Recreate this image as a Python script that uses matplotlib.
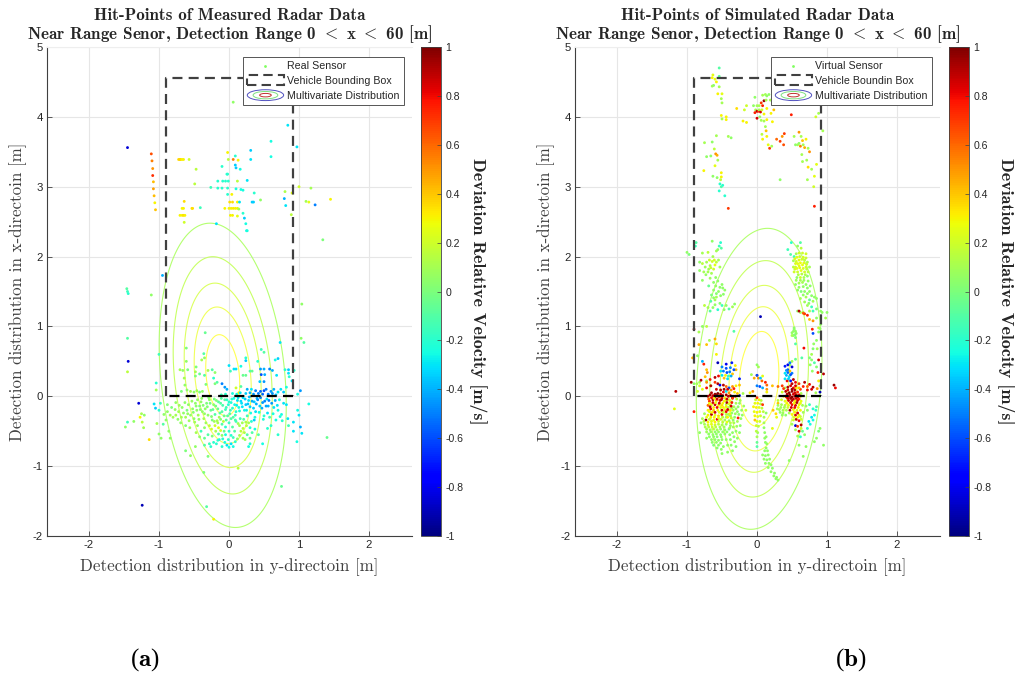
"""Hit-points of measured and simulated radar data, side by side."""
import numpy as np
import matplotlib
matplotlib.use('Agg')
import matplotlib.pyplot as plt
from matplotlib.cm import ScalarMappable
from matplotlib.colors import Normalize
from matplotlib.legend_handler import HandlerBase
from matplotlib.lines import Line2D
from matplotlib.patches import Ellipse, Patch, Rectangle

# values as (y-direction, x-direction, deviation velocity)
real_far_hits = [
    (0.06,4.21,0.05),(0.84,3.88,-0.3),(0.97,3.57,-0.3),(0.6,3.65,-0.25),(-1.45,3.56,-0.85),
    (-1.11,3.47,0.65),(-1.1,3.37,0.55),(-1.09,3.26,0.5),(-1.09,3.16,0.72),(-1.08,3.07,0.42),
    (-1.08,2.97,0.48),(-1.07,2.87,0.42),(-1.06,2.77,0.3),(-1.05,2.67,0.4),(-0.72,3.39,0.35),
    (-0.7,3.39,0.4),(-0.69,3.39,0.35),(-0.67,3.39,0.3),(-0.65,3.39,0.3),(-0.57,3.39,0.2),
    (-0.47,3.25,0.15),(-0.49,3.04,0.15),(-0.64,2.79,0.35),(-0.65,2.69,0.3),(-0.67,2.69,0.3),
    (-0.53,2.69,0.35),(-0.52,2.69,0.35),(-0.41,2.7,-0.15),(-0.7,2.59,0.3),(-0.67,2.59,0.3),
    (-0.65,2.59,0.35),(-0.63,2.59,0.3),(-0.64,2.49,0.2),(-0.18,2.47,-0.3),(-0.02,3.49,0.3),
    (-0.01,3.39,0.15),(0.06,3.39,0.55),(0.13,3.38,0.3),(0.09,3.44,-0.2),(0.31,3.52,-0.35),
    (0.31,3.39,-0.3),(0.6,3.43,-0.25),(-0.1,3.29,-0.2),(0.09,3.31,-0.35),(0.1,3.27,-0.35),
    (0.16,3.25,-0.25),(-0.03,3.18,-0.2),(-0.02,3.18,-0.2),(-0.16,3.08,-0.2),(-0.09,3.08,-0.2),
    (-0.05,3.08,-0.2),(-0.01,3.08,-0.2),(0.12,3.08,0.15),(0.26,3.09,-0.3),(-0.26,2.99,-0.15),
    (-0.16,2.98,-0.2),(-0.1,2.98,-0.2),(-0.02,2.98,-0.2),(0.1,2.97,-0.25),(0.17,2.96,-0.25),
    (0.2,2.95,-0.25),(0.36,2.91,-0.2),(-0.02,2.89,-0.2),(0.04,2.89,0.3),(0.45,2.81,0.05),
    (0.33,2.78,-0.35),(0.35,2.78,-0.35),(0.01,2.78,0.35),(0.05,2.78,0.35),(0.12,2.78,0.3),
    (0.15,2.78,-0.3),(-0.06,2.69,0.3),(0.0,2.69,0.3),(0.03,2.69,0.3),(0.06,2.69,0.32),
    (0.09,2.69,0.3),(0.12,2.69,0.3),(0.14,2.68,0.1),(0.2,2.62,-0.2),(0.22,2.55,-0.35),
    (0.24,2.47,-0.25),(0.26,2.37,-0.25),(0.25,2.37,-0.25),(0.02,2.59,0.3),(0.05,2.59,0.3),
    (0.12,2.58,0.25),(0.8,2.93,0.12),(0.9,2.91,0.25),(0.79,2.83,-0.4),(0.81,2.73,-0.3),
    (0.89,2.6,0.15),(1.0,3.0,0.2),(1.17,2.98,0.1),(1.1,2.79,0.1),(1.14,2.78,0.25),
    (1.23,2.74,-0.5),(1.45,2.82,0.3),(1.34,2.24,0.0),(-0.95,1.73,-0.4),(-1.46,1.54,-0.1),
    (-1.45,1.5,-0.15),(-1.44,1.47,-0.2),(-1.11,1.45,0.05),(1.04,1.32,0.05),
]
real_upper_hits = [
    (-1.45,0.83,-0.1),(-1.44,0.5,-0.85),(-1.45,0.35,0.15),(-1.0,0.6,-0.15),(-1.04,0.19,-0.2),
    (-1.04,0.09,0.1),(-0.61,0.69,0.0),(-0.34,0.91,-0.05),(-0.36,0.61,-0.1),(-0.35,0.55,0.05),
    (-0.39,0.52,0.1),(-0.61,0.5,0.05),(-0.7,0.38,0.1),(-0.66,0.37,0.05),(-0.59,0.38,0.0),
    (-0.47,0.42,0.0),(-0.48,0.35,0.1),(-0.42,0.32,-0.05),(-0.48,0.29,0.0),(-0.35,0.3,-0.1),
    (-0.3,0.37,0.1),(-0.24,0.38,-0.1),(-0.2,0.34,0.05),(-0.22,0.26,-0.2),(-0.17,0.2,-0.1),
    (-0.2,0.18,0.0),(-0.33,0.17,0.0),(-0.64,0.26,0.1),(-0.63,0.16,0.05),(-0.68,0.07,0.0),
    (-0.6,0.09,0.05),(-0.55,0.07,0.1),(-0.5,0.06,0.05),(-0.46,0.08,0.1),(-0.42,0.06,0.0),
    (-0.38,0.07,0.05),(-0.1,0.18,-0.5),(-0.06,0.13,-0.45),(-0.03,0.1,-0.4),(0.0,0.44,-0.3),
    (0.02,0.36,-0.15),(0.07,0.39,-0.3),(0.1,0.39,-0.3),(0.17,0.43,-0.25),(0.24,0.55,-0.2),
    (0.24,0.51,-0.35),(0.2,0.3,-0.05),(0.24,0.3,-0.05),(0.17,0.14,-0.1),(0.1,0.12,0.2),
    (0.14,0.05,0.3),(0.3,0.36,-0.1),(0.33,0.36,-0.05),(0.41,0.5,-0.2),(0.46,0.67,-0.15),
    (0.5,0.63,-0.1),(0.45,0.39,-0.45),(0.5,0.39,-0.4),(0.46,0.31,-0.6),(0.51,0.31,-0.4),
    (0.44,0.21,-0.35),(0.5,0.21,-0.45),(0.58,0.39,-0.5),(0.62,0.37,-0.4),(0.66,0.52,-0.25),
    (0.7,0.54,-0.35),(0.73,0.77,-0.3),(0.68,0.3,-0.3),(0.8,0.38,-0.2),(0.85,0.38,-0.35),
    (0.93,0.37,-0.2),(0.85,0.33,-0.3),(0.86,0.28,-0.2),(0.9,0.22,-0.3),(0.26,0.1,-0.4),
    (0.32,0.1,-0.3),(0.38,0.08,-0.5),(0.45,0.07,-0.55),(0.5,0.08,-0.6),(0.53,0.1,-0.5),
    (0.6,0.07,-0.45),(0.64,0.1,-0.4),(0.7,0.06,-0.3),(0.78,0.06,-0.35),(1.03,0.83,0.05),
    (1.07,0.77,-0.1),(0.98,0.03,-0.25),(1.02,0.08,-0.45),
]
real_lower_hits = [
    (-0.98,-0.1,-0.15),(-1.07,-0.11,-0.3),(-1.05,-0.17,-0.35),(-1.0,-0.2,-0.2),(-1.21,-0.27,0.05),
    (-1.24,-0.37,0.15),(-1.25,-0.25,0.1),(-1.27,-0.3,0.3),(-1.36,-0.36,0.05),(-1.48,-0.44,0.05),
    (-1.45,-0.37,-0.15),(-1.22,-0.45,0.1),(-1.29,-0.1,-0.85),(-1.14,-0.62,0.35),(-1.03,-0.39,0.1),
    (-1.0,-0.54,0.05),(-0.97,-0.6,0.05),(-0.94,-0.4,-0.1),(-0.86,-0.5,0.05),(-0.84,-0.6,0.05),
    (-0.9,-0.34,0.05),(-0.93,-0.26,0.05),(-0.88,-0.22,0.05),(-0.84,-0.27,0.1),(-0.82,-0.16,0.0),
    (-0.8,-0.3,0.1),(-0.76,-0.27,0.1),(-0.73,-0.33,0.05),(-0.72,-0.22,0.1),(-0.68,-0.3,0.1),
    (-0.65,-0.24,0.05),(-0.62,-0.3,0.1),(-0.6,-0.2,0.0),(-0.58,-0.12,0.05),(-0.55,-0.27,0.05),
    (-0.52,-0.18,0.05),(-0.5,-0.32,0.05),(-0.48,-0.1,0.05),(-0.46,-0.2,0.05),(-0.44,-0.27,0.1),
    (-0.42,-0.14,0.0),(-0.4,-0.08,0.05),(-0.38,-0.22,0.05),(-0.36,-0.32,0.1),(-0.34,-0.18,0.05),
    (-0.32,-0.1,0.0),(-0.3,-0.27,0.05),(-0.28,-0.05,0.05),(-0.26,-0.2,-0.05),(-0.24,-0.34,0.0),
    (-0.22,-0.12,0.05),(-0.2,-0.26,-0.1),(-0.18,-0.06,0.0),(-0.16,-0.18,-0.05),(-0.14,-0.3,0.1),
    (-0.12,-0.1,-0.1),(-0.1,-0.22,-0.1),(-0.08,-0.36,0.15),(-0.06,-0.05,-0.1),(-0.04,-0.16,-0.15),
    (-0.02,-0.28,-0.1),(0.0,-0.08,-0.2),(0.02,-0.2,-0.15),(0.04,-0.04,-0.2),(0.06,-0.3,-0.1),
    (0.08,-0.12,-0.25),(0.1,-0.22,-0.2),(0.12,-0.06,-0.3),(0.14,-0.16,-0.25),(0.16,-0.32,-0.15),
    (0.18,-0.1,-0.3),(0.2,-0.02,-0.3),(0.22,-0.2,-0.25),(0.24,-0.12,-0.35),(0.26,-0.28,-0.15),
    (0.28,-0.06,-0.3),(0.3,-0.15,-0.35),(0.32,-0.36,-0.2),(0.36,-0.08,-0.35),(0.38,-0.22,-0.3),
    (0.4,-0.03,-0.4),(0.44,-0.14,-0.35),(0.48,-0.09,-0.45),(0.5,-0.28,-0.2),(0.54,-0.04,-0.3),
    (0.56,-0.14,-0.4),(0.58,-0.3,-0.15),(0.6,-0.42,-0.2),(0.64,-0.16,-0.3),(0.67,-0.34,-0.25),
    (0.7,-0.2,-0.25),(0.72,-0.05,-0.25),(0.75,-0.26,-0.25),(0.78,-0.1,-0.3),(0.76,-0.35,-0.2),
    (0.82,-0.12,-0.3),(0.84,-0.32,-0.3),(0.85,-0.42,-0.15),(0.92,-0.37,-0.3),(0.92,-0.5,-0.3),
    (0.98,-0.2,-0.25),(1.0,-0.27,-0.3),(1.02,-0.44,-0.4),(1.04,-0.53,-0.3),(0.97,-0.65,-0.25),
    (1.14,-0.11,-0.25),(1.4,-0.59,-0.05),(0.75,-1.29,-0.05),(-0.32,-1.58,-0.1),(-1.24,-1.56,-0.9),
    (-0.22,-1.76,0.3),(-0.36,-1.09,0.0),(0.13,-1.03,0.15),(-0.62,-0.78,0.0),(-0.55,-0.85,0.05),
    (-0.3,-0.86,0.0),(-0.48,-0.72,0.05),(-0.35,-0.7,-0.1),(-0.28,-0.68,-0.15),(-0.26,-0.72,-0.2),
    (-0.22,-0.66,-0.2),(-0.18,-0.68,-0.2),(-0.14,-0.62,-0.25),(-0.1,-0.72,-0.2),(-0.06,-0.66,-0.25),
    (-0.03,-0.7,-0.3),(0.0,-0.73,-0.25),(0.03,-0.68,-0.3),(0.06,-0.72,-0.25),(0.09,-0.65,-0.2),
    (-0.15,-0.54,-0.1),(-0.1,-0.56,0.05),(-0.05,-0.55,-0.25),(0.0,-0.5,-0.2),(0.08,-0.5,-0.1),
    (0.15,-0.56,0.1),(0.2,-0.6,0.1),(0.26,-0.55,-0.1),(0.3,-0.6,-0.05),(0.28,-0.72,-0.25),
    (0.3,-0.68,-0.2),(0.42,-0.55,-0.1),(0.48,-0.68,-0.25),(0.55,-0.46,-0.2),(0.7,-0.55,-0.2),
    (-0.45,-0.42,0.05),(-0.4,-0.5,-0.15),(-0.35,-0.45,0.05),(-0.3,-0.55,-0.1),(-0.28,-0.42,0.15),
    (-0.25,-0.47,0.2),(-0.2,-0.42,0.2),(-0.15,-0.45,0.25),(-0.1,-0.4,-0.1),(-0.05,-0.44,-0.2),
    (0.0,-0.38,-0.15),(0.05,-0.44,-0.1),(0.1,-0.36,-0.15),(0.15,-0.42,0.1),(0.2,-0.46,0.15),
    (0.25,-0.42,0.15),(0.3,-0.45,-0.2),(0.36,-0.34,-0.35),
]
real_dense_hits = [
    (-0.77,-0.19,0.06),(-0.71,-0.13,0.08),(-0.67,-0.16,0.05),(-0.63,-0.09,0.04),(-0.59,-0.25,0.07),
    (-0.57,-0.35,0.08),(-0.53,-0.07,0.06),(-0.51,-0.23,0.03),(-0.49,-0.37,0.09),(-0.47,-0.14,0.04),
    (-0.45,-0.05,0.06),(-0.43,-0.33,0.07),(-0.41,-0.19,0.02),(-0.39,-0.03,0.05),(-0.37,-0.13,0.03),
    (-0.35,-0.25,0.06),(-0.33,-0.38,0.08),(-0.31,-0.15,0.02),(-0.29,-0.02,0.03),(-0.27,-0.1,-0.02),
    (-0.25,-0.29,0.02),(-0.23,-0.19,-0.06),(-0.21,-0.04,-0.02),(-0.19,-0.14,-0.03),(-0.17,-0.35,0.12),
    (-0.15,-0.08,-0.08),(-0.13,-0.24,-0.09),(-0.11,-0.03,-0.1),(-0.09,-0.13,-0.12),(-0.07,-0.28,-0.05),
    (-0.05,-0.19,-0.15),(-0.03,-0.05,-0.18),(-0.01,-0.12,-0.2),(0.01,-0.25,-0.12),(0.03,-0.09,-0.22),
    (0.05,-0.17,-0.2),(0.07,-0.03,-0.25),(0.09,-0.27,-0.15),(0.11,-0.13,-0.28),(0.13,-0.02,-0.3),
    (0.15,-0.21,-0.22),(0.17,-0.07,-0.32),(0.19,-0.15,-0.3),(0.21,-0.33,-0.1),(0.23,-0.04,-0.35),
    (0.25,-0.2,-0.28),(0.27,-0.11,-0.36),(0.29,-0.01,-0.38),(0.31,-0.24,-0.25),(0.33,-0.07,-0.4),
    (0.35,-0.17,-0.34),(0.37,-0.3,-0.22),(0.39,-0.11,-0.4),(0.41,-0.05,-0.45),(0.43,-0.23,-0.25),
    (0.45,-0.02,-0.5),(0.47,-0.17,-0.4),(0.49,-0.33,-0.22),(0.51,-0.07,-0.48),(0.53,-0.14,-0.42),
    (0.55,-0.24,-0.3),(0.57,-0.06,-0.5),(0.61,-0.1,-0.45),(0.63,-0.25,-0.25),(0.66,-0.06,-0.4),
    (0.69,-0.13,-0.3),(0.73,-0.29,-0.22),(-0.19,-0.5,0.1),(-0.12,-0.49,0.2),(-0.07,-0.5,-0.05),
    (0.03,-0.56,-0.2),(0.06,-0.59,-0.15),(0.12,-0.61,0.05),(0.17,-0.5,0.15),(0.22,-0.52,0.12),
    (0.23,-0.62,0.08),(0.33,-0.52,-0.1),(0.37,-0.47,-0.25),(-0.16,-0.63,-0.18),(-0.09,-0.61,-0.2),
    (-0.01,-0.62,-0.2),(-0.24,-0.57,0.0),(-0.35,-0.6,-0.05),(-0.42,-0.58,0.05),(-0.21,-0.36,0.08),
    (-0.16,-0.38,0.1),(-0.12,-0.33,0.02),(-0.04,-0.34,-0.1),(0.03,-0.32,-0.1),(0.09,-0.34,-0.12),
    (0.13,-0.39,0.08),(0.19,-0.38,0.1),(0.24,-0.37,0.12),(0.28,-0.38,0.1),(-0.88,-0.12,0.02),
    (-0.76,-0.09,0.05),(-0.69,-0.38,0.05),(-0.62,-0.42,0.02),(-0.56,-0.45,0.08),(-0.47,-0.52,0.1),
    (-0.11,0.02,-0.15),(-0.05,0.03,-0.2),(0.05,0.04,-0.25),(0.11,0.03,-0.25),(0.16,0.05,-0.3),
    (0.24,0.04,-0.35),(0.3,0.05,-0.4),(0.35,0.03,-0.45),(0.42,0.04,-0.5),(0.48,0.03,-0.55),
    (0.56,0.03,-0.5),(0.62,0.04,-0.45),(0.67,0.02,-0.35),(0.74,0.1,-0.3),(0.82,0.13,-0.25),
]

sim_top_hits = [
    (-0.54,4.7,-0.1),(-0.63,4.6,0.25),(-0.64,4.56,0.3),(-0.6,4.54,0.25),(-0.58,4.5,0.3),
    (-0.54,4.58,-0.05),(-0.64,4.44,0.1),(-0.62,4.45,0.05),(-0.54,4.43,0.1),(-0.56,4.33,0.3),
    (-0.5,4.33,0.25),(-0.51,4.26,0.1),(-0.5,4.2,0.1),(-0.51,4.02,0.3),(-0.5,3.97,0.1),
    (-0.44,4.0,0.3),(-0.44,3.96,0.3),(-0.58,3.73,0.1),(-0.41,3.72,0.1),(-0.37,3.7,0.05),
    (-0.75,3.63,0.1),(-0.64,3.64,0.05),(-0.61,3.54,0.15),(-0.59,3.47,0.5),(-0.57,3.45,0.45),
    (-0.72,3.43,0.05),(-0.66,3.44,0.05),(-0.56,3.38,0.1),(-0.6,3.3,0.25),(-0.76,3.23,0.3),
    (-0.63,3.15,0.05),(-0.57,3.13,0.05),(-0.51,3.2,0.3),(-0.51,3.14,0.3),(-0.52,3.1,0.15),
    (-0.53,3.04,-0.2),(-0.51,3.0,-0.1),(-0.49,3.02,-0.2),(-0.54,2.94,-0.2),(-0.46,2.87,-0.2),
    (-0.41,2.69,0.7),(-0.29,4.12,0.35),(-0.18,4.1,0.2),(-0.15,4.16,0.2),(-0.2,3.94,0.3),
    (-0.15,3.92,0.3),(-0.03,4.28,0.05),(-0.05,4.16,0.05),(-0.02,4.1,0.1),(0.0,4.16,0.1),
    (-0.03,4.06,0.75),(0.0,4.08,0.9),(0.02,4.08,0.75),(0.03,4.1,0.1),(0.05,4.07,0.85),
    (0.03,4.16,0.1),(0.06,4.2,0.7),(0.08,4.16,0.75),(0.1,4.23,0.95),(0.07,4.1,0.2),
    (0.04,4.0,0.05),(0.0,3.98,0.85),(0.06,3.95,0.1),(0.1,4.04,0.3),(0.14,4.12,0.3),
    (0.13,4.24,0.1),(0.12,4.32,0.1),(0.08,4.31,0.1),(0.14,4.3,0.05),(0.17,4.32,0.05),
    (0.19,4.24,0.1),(0.22,4.18,0.25),(0.24,4.1,0.4),(0.2,4.05,0.3),(0.14,3.96,0.3),
    (0.1,3.94,0.1),(0.22,3.93,0.3),(0.12,3.86,0.1),(0.13,3.8,0.4),(0.07,3.75,0.15),
    (0.14,3.72,0.3),(0.08,3.68,0.3),(0.16,3.6,0.25),(0.18,3.55,0.7),(0.21,3.58,0.1),
    (0.28,3.68,0.6),(0.33,3.65,0.7),(0.36,3.72,0.5),(0.38,3.6,0.65),(0.39,3.76,0.7),
    (0.49,4.03,0.75),(0.53,3.72,0.1),(0.6,3.78,0.5),(0.63,3.72,0.1),(0.6,3.62,0.05),
    (0.65,3.66,0.4),(0.58,3.6,0.1),(0.62,3.58,0.55),(0.66,3.6,0.1),(0.68,3.56,0.45),
    (0.55,3.6,0.05),(0.7,3.68,0.3),(0.73,3.55,0.1),(0.75,3.5,0.5),(0.64,3.46,0.1),
    (0.65,3.36,0.1),(0.71,3.38,0.1),(0.73,3.28,0.35),(0.85,3.32,0.25),(0.78,3.25,0.1),
    (0.72,3.1,0.1),(0.82,3.15,0.25),(0.81,3.0,0.2),(0.82,2.72,0.75),(0.33,3.1,0.05),
    (0.94,3.8,0.1),(0.88,4.05,0.1),(0.84,4.0,0.2),
]
sim_mid_hits = [
    (-0.64,2.22,0.05),(-0.87,2.2,-0.1),(-0.88,2.15,-0.15),(-0.54,2.15,-0.15),(-0.52,2.2,-0.2),
    (-0.51,2.12,-0.1),(-1.0,2.06,0.05),(-0.97,2.03,0.0),(-0.78,2.05,0.1),(-0.7,2.06,0.15),
    (-0.58,2.08,0.1),(-0.56,2.1,0.05),(-0.82,1.92,0.05),(-0.78,1.9,0.15),(-0.72,1.92,0.1),
    (-0.68,1.95,0.2),(-0.63,2.0,0.1),(-0.6,1.88,0.25),(-0.62,1.82,0.2),(-0.55,1.95,0.1),
    (-0.53,1.85,0.1),(-0.82,1.8,0.05),(-0.76,1.78,0.1),(-0.7,1.78,0.1),(-0.65,1.76,0.1),
    (-0.78,1.66,0.05),(-0.59,1.7,0.05),(-0.56,1.65,0.05),(-0.5,1.6,0.05),(-0.69,1.58,-0.05),
    (-0.62,1.52,0.05),(-0.55,1.5,0.05),(-0.46,1.52,0.05),(-0.65,1.45,0.0),(-0.58,1.42,0.1),
    (-0.66,1.36,-0.1),(-0.6,1.38,0.1),(-0.7,1.27,0.1),(-0.75,1.3,0.15),(-0.67,1.22,-0.1),
    (-0.63,1.27,0.05),(-0.56,1.24,-0.2),(-0.5,1.3,-0.15),(-0.44,1.3,0.05),(-0.4,1.25,-0.1),
    (-0.35,1.28,0.1),(-0.32,1.32,0.05),(-0.72,1.0,0.15),(-0.78,1.0,0.05),(-0.83,0.92,0.1),
    (-0.9,0.96,0.9),(-0.68,0.8,0.1),(-0.72,0.74,0.4),(-0.83,0.74,0.45),(-0.6,0.82,0.45),
    (-0.58,0.75,0.35),(-0.92,0.55,0.45),(-0.58,0.6,0.3),(-0.78,0.5,-0.4),(-0.76,0.46,0.75),
    (-0.72,0.38,0.4),(-0.71,0.34,0.5),(-0.74,0.28,0.4),(-0.72,0.22,0.1),(-0.85,0.58,0.05),
    (-0.82,0.2,0.1),(-0.66,0.15,0.2),(-0.33,0.93,-0.1),(-0.31,0.44,0.3),(-0.3,0.38,0.4),
    (-0.25,0.25,-0.7),(0.05,1.14,-0.9),(0.52,1.94,0.1),(0.53,2.0,-0.15),(0.48,2.03,-0.1),
    (0.44,2.1,-0.15),(0.49,2.2,-0.2),(0.58,2.15,0.05),(0.62,2.2,-0.1),(0.63,2.12,0.15),
    (0.56,2.04,0.1),(0.6,2.05,0.2),(0.65,2.05,0.2),(0.7,2.04,0.2),(0.52,1.85,0.15),
    (0.56,1.93,0.2),(0.6,1.95,0.25),(0.64,1.96,0.2),(0.68,1.95,0.15),(0.72,1.92,0.1),
    (0.55,1.85,0.2),(0.6,1.87,0.25),(0.65,1.88,0.25),(0.7,1.85,0.2),(0.75,1.85,0.1),
    (0.53,1.78,0.2),(0.58,1.78,0.2),(0.63,1.8,0.25),(0.68,1.78,0.2),(0.73,1.78,0.15),
    (0.57,1.7,0.05),(0.62,1.7,0.2),(0.67,1.7,0.1),(0.72,1.72,0.05),(0.55,1.6,0.05),
    (0.6,1.62,0.1),(0.65,1.63,0.1),(0.7,1.6,0.05),(0.76,1.58,0.05),(0.58,1.52,0.05),
    (0.63,1.5,0.0),(0.68,1.5,0.05),(0.75,1.5,0.05),(0.82,1.42,0.05),(0.62,1.4,0.1),
    (0.7,1.42,0.1),(0.75,1.38,-0.05),(0.8,1.36,0.1),(0.85,1.4,0.05),(0.72,1.3,0.1),
    (0.78,1.28,-0.15),(0.85,1.25,0.0),(0.8,1.22,-0.15),(0.75,1.22,0.1),(0.93,1.2,0.05),
    (0.98,1.12,0.1),(0.85,1.12,0.05),(0.66,1.2,0.1),(0.62,1.2,0.1),(0.58,1.22,0.05),
    (0.91,1.22,0.05),(1.0,1.2,0.05),(0.6,1.22,0.9),(0.66,1.19,0.6),(0.68,1.18,0.7),
    (0.72,1.16,0.75),(0.75,1.1,0.4),(0.8,1.08,0.5),(0.88,0.98,0.2),(0.91,1.03,0.05),
    (0.9,0.97,0.05),(0.88,0.92,0.05),(0.79,0.96,0.75),(0.8,0.9,-0.6),(0.53,0.98,0.05),
    (0.52,0.93,0.05),(0.56,0.9,0.05),(0.52,0.87,0.05),(0.55,0.84,0.0),(0.5,0.87,0.1),
    (0.55,0.75,-0.1),(0.67,0.69,0.8),(0.86,0.68,0.1),(0.88,0.52,0.85),(0.78,0.6,0.1),
    (0.75,0.55,0.0),(0.82,0.48,-0.1),(0.76,0.45,0.05),(0.87,0.34,0.75),(0.95,0.32,0.9),
    (0.64,0.55,-0.1),(0.55,0.53,-0.05),(0.5,0.5,0.1),(0.47,0.45,0.05),
]
sim_close_hits = [
    (-0.44,0.46,-0.8),(-0.36,0.48,-0.7),(-0.56,0.48,-0.9),(-0.5,0.42,-0.5),(-0.44,0.4,-0.6),
    (-0.38,0.41,-0.5),(-0.33,0.38,-0.6),(-0.52,0.36,-0.3),(-0.48,0.36,-0.5),(-0.43,0.34,-0.6),
    (-0.39,0.35,-0.5),(-0.35,0.32,0.4),(-0.5,0.3,-0.3),(-0.45,0.3,0.3),(-0.41,0.29,-0.2),
    (-0.37,0.29,-0.4),(-0.47,0.26,0.4),(-0.42,0.25,-0.3),(-0.55,0.29,0.8),(-0.6,0.27,0.9),
    (-0.67,0.24,0.75),(-0.72,0.2,0.5),(-0.8,0.23,0.9),(-0.86,0.18,0.1),(-0.9,0.18,0.05),
    (-0.94,0.2,0.95),(-0.85,0.07,0.2),(-0.82,0.15,0.2),(-0.78,0.1,0.25),(-0.72,0.12,0.8),
    (-0.66,0.15,0.9),(-0.6,0.2,0.7),(-0.56,0.18,0.9),(-0.53,0.16,-0.8),(-0.48,0.16,0.9),
    (-0.44,0.14,0.6),(-0.4,0.12,-0.6),(-0.35,0.14,0.5),(-0.3,0.15,0.3),(-0.25,0.16,0.4),
    (-0.48,0.06,0.8),(-0.44,0.07,-0.3),(-0.4,0.05,0.5),(-0.32,0.06,0.3),(-0.25,0.01,-0.7),
    (-0.2,0.04,0.1),(-0.65,0.05,0.9),(-0.6,0.03,0.95),(-0.56,0.04,1.0),(-0.52,0.03,0.85),
    (-0.7,0.0,0.9),(-0.65,-0.02,0.8),(-0.6,-0.01,1.0),(-0.55,0.0,0.9),(-0.5,-0.03,0.85),
    (-0.46,-0.02,0.3),(-0.68,-0.07,0.75),(-0.63,-0.05,0.9),(-0.58,-0.06,0.4),(-0.53,-0.06,0.8),
    (-0.47,-0.07,0.3),(-0.42,-0.05,0.1),(-0.36,-0.08,0.1),(-0.3,-0.1,0.1),(-0.25,-0.1,0.05),
    (-0.7,-0.13,0.6),(-0.65,-0.12,0.25),(-0.6,-0.12,0.85),(-0.55,-0.13,0.3),(-0.5,-0.13,0.35),
    (-0.44,-0.12,0.15),(-0.38,-0.13,0.1),(-0.33,-0.15,0.1),(-0.27,-0.15,0.05),(-0.7,-0.2,0.3),
    (-0.66,-0.18,0.8),(-0.62,-0.2,0.4),(-0.56,-0.2,0.3),(-0.5,-0.2,0.85),(-0.46,-0.19,0.25),
    (-0.4,-0.2,0.1),(-0.34,-0.2,0.1),(-0.28,-0.22,0.05),(-0.22,-0.2,0.05),(-0.75,-0.25,0.1),
    (-0.7,-0.27,0.3),(-0.65,-0.26,0.9),(-0.6,-0.27,0.25),(-0.55,-0.28,0.35),(-0.5,-0.26,0.8),
    (-0.44,-0.26,0.15),(-0.38,-0.28,0.05),(-0.32,-0.3,0.05),(-0.78,-0.32,0.1),(-0.73,-0.34,0.95),
    (-0.68,-0.33,0.2),(-0.62,-0.34,0.25),(-0.57,-0.33,0.8),(-0.52,-0.33,0.2),(-0.46,-0.34,0.1),
    (-0.4,-0.35,0.05),(-0.34,-0.34,0.05),(-0.8,-0.38,0.05),(-0.75,-0.4,0.1),(-0.7,-0.41,0.2),
    (-0.65,-0.4,0.25),(-0.6,-0.41,0.2),(-0.55,-0.4,0.15),(-0.5,-0.41,0.1),(-0.44,-0.4,0.05),
    (-0.38,-0.42,0.05),(-0.72,-0.47,0.1),(-0.67,-0.48,0.1),(-0.62,-0.47,0.15),(-0.57,-0.48,0.1),
    (-0.52,-0.47,0.05),(-0.46,-0.48,0.05),(-0.4,-0.47,0.0),(-0.82,-0.52,0.05),(-0.69,-0.54,0.05),
    (-0.63,-0.55,0.05),(-0.58,-0.54,0.05),(-0.52,-0.55,0.05),(-0.46,-0.54,0.05),(-0.65,-0.62,0.05),
    (-0.6,-0.62,0.05),(-0.55,-0.63,0.05),(-0.5,-0.62,0.05),(-0.44,-0.62,0.05),(-0.55,-0.7,0.05),
    (-0.62,-0.7,0.0),(-0.48,-0.72,0.05),(-0.5,-0.82,0.05),(-0.42,-0.8,0.05),(-0.72,-0.6,0.05),
    (-1.16,0.07,0.9),(-1.18,-0.18,0.25),(-0.9,-0.22,0.75),(-0.27,-0.31,0.75),(-0.16,-0.2,0.2),
    (-0.35,-0.02,0.9),(0.0,0.45,0.05),(0.02,0.42,0.1),(0.0,0.3,0.6),(-0.08,0.31,0.1),
    (-0.04,0.26,0.45),(0.0,0.3,-0.6),(0.02,0.26,0.5),(0.05,0.26,-0.35),(0.08,0.29,0.25),
    (0.07,0.22,0.6),(0.12,0.2,0.75),(0.14,0.16,0.6),(0.0,0.15,-0.5),(0.04,0.14,-0.6),
    (0.08,0.12,-0.4),(0.14,0.1,0.5),(0.14,0.06,0.3),(0.22,0.15,0.4),(-0.1,0.05,0.3),
    (-0.06,0.07,0.5),
]
sim_stem_hits = [
    (-0.02,-0.05,0.2),(0.0,-0.02,0.7),(0.03,-0.05,0.3),(0.06,-0.06,0.15),(-0.03,-0.1,0.25),
    (0.01,-0.1,0.3),(0.05,-0.11,0.15),(0.08,-0.12,0.7),(-0.05,-0.15,0.3),(-0.01,-0.16,0.3),
    (0.03,-0.16,0.25),(0.07,-0.17,0.15),(-0.04,-0.22,0.25),(0.0,-0.23,0.3),(0.04,-0.22,0.25),
    (0.09,-0.22,0.15),(0.13,-0.24,0.05),(-0.03,-0.28,0.3),(0.01,-0.29,0.25),(0.05,-0.28,0.2),
    (0.1,-0.3,0.1),(-0.03,-0.34,0.4),(0.0,-0.36,0.25),(0.04,-0.36,0.2),(0.1,-0.38,0.1),
    (-0.01,-0.42,0.2),(0.02,-0.43,0.15),(0.1,-0.45,0.05),(-0.01,-0.5,0.15),(0.01,-0.52,0.1),
    (0.11,-0.52,0.05),(0.0,-0.58,0.1),(0.11,-0.6,0.05),(0.13,-0.58,0.05),(0.0,-0.66,-0.05),
    (0.12,-0.66,0.05),(0.14,-0.68,0.05),(0.0,-0.72,-0.1),(0.13,-0.74,0.05),(0.11,-0.78,0.05),
    (0.15,-0.78,0.05),(0.08,-0.84,0.05),(0.12,-0.85,0.05),(0.16,-0.84,0.05),(0.1,-0.9,0.05),
    (0.14,-0.91,0.05),(0.18,-0.9,0.05),(0.12,-0.96,0.05),(0.17,-0.96,0.05),(0.2,-0.98,0.05),
    (0.16,-1.02,0.05),(0.22,-1.03,0.05),(0.2,-1.08,0.05),(0.25,-1.1,0.05),(0.24,-1.14,0.05),
    (0.28,-1.16,0.05),(0.3,-1.2,0.05),(0.27,-1.18,0.05),(0.22,-0.46,0.25),(0.27,-0.25,0.35),
    (0.23,-0.2,0.4),(0.3,-0.1,0.4),(0.28,-0.3,0.25),
]
sim_right_hits = [
    (0.44,0.45,-0.8),(0.4,0.43,-0.7),(0.47,0.48,-0.5),(0.5,0.42,-0.85),(0.44,0.38,-0.6),
    (0.47,0.36,0.4),(0.5,0.33,-0.5),(0.42,0.3,-0.4),(0.46,0.28,-0.3),(0.4,0.25,-0.3),
    (0.43,0.22,0.8),(0.48,0.22,-0.7),(0.52,0.24,0.9),(0.55,0.2,0.8),(0.6,0.18,0.7),
    (0.68,0.2,0.9),(0.75,0.17,0.8),(0.8,0.13,0.9),(0.86,0.11,0.5),(0.88,0.22,0.3),
    (0.9,0.15,0.1),(0.84,0.05,0.1),(0.9,0.06,-0.9),(1.1,0.16,0.95),(1.12,0.12,0.8),
    (0.3,0.14,0.6),(0.36,0.15,0.7),(0.4,0.12,0.1),(0.44,0.13,0.9),(0.48,0.15,0.85),
    (0.52,0.12,0.8),(0.56,0.12,0.3),(0.62,0.1,0.7),(0.72,0.09,0.8),(0.36,0.06,0.2),
    (0.41,0.07,0.9),(0.46,0.05,1.0),(0.5,0.07,0.95),(0.54,0.05,0.85),(0.58,0.06,0.75),
    (0.63,0.04,0.1),(0.38,0.0,0.3),(0.42,-0.01,0.8),(0.46,0.0,0.95),(0.5,-0.01,1.0),
    (0.54,0.0,0.9),(0.58,-0.01,0.95),(0.62,0.0,0.4),(0.3,-0.06,0.15),(0.35,-0.05,0.2),
    (0.4,-0.07,0.25),(0.45,-0.06,0.85),(0.5,-0.06,0.9),(0.54,-0.07,0.3),(0.58,-0.06,0.85),
    (0.63,-0.07,0.25),(0.3,-0.13,0.1),(0.35,-0.12,0.1),(0.4,-0.13,0.15),(0.45,-0.13,0.25),
    (0.5,-0.12,0.8),(0.55,-0.13,0.85),(0.6,-0.12,0.3),(0.65,-0.13,0.1),(0.32,-0.19,0.1),
    (0.37,-0.2,0.1),(0.42,-0.2,0.1),(0.47,-0.2,0.9),(0.52,-0.19,0.3),(0.57,-0.2,0.25),
    (0.62,-0.2,0.3),(0.36,-0.27,0.05),(0.41,-0.27,0.05),(0.5,-0.26,0.3),(0.55,-0.27,0.85),
    (0.6,-0.27,0.3),(0.52,-0.34,0.2),(0.56,-0.33,0.9),(0.6,-0.35,0.8),(0.63,-0.33,0.2),
    (0.5,-0.4,0.1),(0.55,-0.42,-0.85),(0.58,-0.43,0.7),(0.63,-0.41,0.9),(0.55,-0.48,0.1),
    (0.6,-0.5,0.85),(0.63,-0.46,0.2),(0.58,-0.57,0.1),(0.62,-0.58,-0.2),(0.65,-0.5,-0.05),
    (0.68,-0.55,0.05),(0.72,-0.46,-0.2),(0.76,-0.4,-0.25),(0.8,-0.34,-0.25),(0.82,-0.27,-0.25),
    (0.84,-0.2,-0.2),(0.78,-0.3,-0.3),(0.74,-0.36,-0.3),(0.85,-0.15,-0.1),(0.9,-0.46,0.05),
    (0.88,-0.5,0.0),(0.95,-0.7,0.05),(0.7,-0.72,0.05),(0.66,-0.86,0.05),(0.46,-0.92,0.05),
    (0.82,-0.65,0.05),(0.85,-0.6,0.05),(0.6,-0.7,0.05),
]
sim_blob_hits = [
    (-0.67,1.87,0.12),(-0.64,1.93,0.2),(-0.66,1.84,0.18),(-0.61,1.95,0.22),(-0.58,1.92,0.15),
    (-0.74,1.85,0.08),(-0.69,1.82,0.1),(-0.73,1.74,0.06),(-0.67,1.69,0.08),(-0.62,1.63,0.05),
    (-0.59,1.58,0.06),(-0.53,1.56,0.04),(-0.49,1.55,0.05),(-0.58,1.47,0.03),(-0.52,1.44,0.05),
    (-0.48,1.46,0.04),(-0.62,1.41,0.05),(-0.6,1.31,0.06),(-0.53,1.33,0.02),(-0.47,1.24,0.05),
    (0.54,1.97,0.22),(0.57,1.99,0.25),(0.61,2.0,0.2),(0.66,1.99,0.22),(0.7,1.98,0.18),
    (0.55,1.9,0.22),(0.58,1.9,0.25),(0.62,1.91,0.28),(0.67,1.91,0.25),(0.71,1.89,0.2),
    (0.54,1.82,0.2),(0.57,1.83,0.25),(0.61,1.84,0.25),(0.66,1.83,0.22),(0.71,1.82,0.15),
    (0.59,1.74,0.12),(0.64,1.75,0.14),(0.69,1.74,0.12),(0.56,1.66,0.08),(0.62,1.66,0.1),
    (0.67,1.66,0.08),(0.73,1.65,0.06),(0.6,1.56,0.06),(0.66,1.57,0.05),(0.72,1.55,0.04),
    (0.66,1.45,0.05),(0.72,1.47,0.06),(0.78,1.44,0.04),(0.68,1.35,0.08),(0.74,1.33,0.05),
    (0.53,0.96,0.04),(0.55,0.93,0.05),(0.5,0.91,0.06),(0.54,0.88,0.02),(0.85,0.8,0.05),
    (0.81,0.75,0.06),(0.8,0.68,0.02),(0.78,0.52,0.04),(0.85,0.42,0.03),(0.79,0.36,0.06),
    (-0.67,0.02,0.95),(-0.63,0.01,0.85),(-0.58,0.02,0.95),(-0.54,-0.01,0.7),(-0.49,0.01,0.9),
    (-0.69,-0.04,0.6),(-0.61,-0.03,0.3),(-0.57,-0.04,0.85),(-0.51,-0.05,0.9),(-0.45,-0.06,0.25),
    (-0.68,-0.1,0.3),(-0.63,-0.09,0.85),(-0.59,-0.09,0.25),(-0.54,-0.1,0.85),(-0.49,-0.1,0.3),
    (-0.67,-0.15,0.9),(-0.62,-0.16,0.3),(-0.57,-0.16,0.8),(-0.52,-0.16,0.25),(-0.48,-0.16,0.3),
    (-0.68,-0.22,0.25),(-0.64,-0.23,0.3),(-0.6,-0.23,0.85),(-0.54,-0.23,0.25),(-0.48,-0.23,0.2),
    (-0.72,-0.3,0.25),(-0.66,-0.3,0.3),(-0.61,-0.3,0.3),(-0.55,-0.31,0.25),(-0.49,-0.3,0.15),
    (-0.44,-0.3,0.1),(-0.76,-0.36,0.15),(-0.7,-0.37,0.3),(-0.65,-0.36,0.25),(-0.6,-0.37,0.3),
    (-0.55,-0.36,0.2),(-0.49,-0.37,0.15),(-0.74,-0.44,0.12),(-0.69,-0.44,0.15),(-0.64,-0.44,0.2),
    (-0.59,-0.44,0.15),(-0.53,-0.44,0.1),(-0.47,-0.44,0.08),(-0.72,-0.51,0.08),(-0.66,-0.51,0.06),
    (-0.6,-0.51,0.05),(-0.55,-0.51,0.06),(-0.49,-0.51,0.05),(-0.43,-0.51,0.04),(-0.68,-0.58,0.05),
    (-0.62,-0.58,0.05),(-0.57,-0.58,0.04),(-0.51,-0.58,0.05),(-0.64,-0.66,0.04),(-0.58,-0.66,0.05),
    (-0.52,-0.67,0.04),(-0.57,-0.74,0.03),(-0.51,-0.76,0.05),(-0.41,-0.26,0.08),(-0.36,-0.24,0.06),
    (-0.31,-0.25,0.08),(-0.26,-0.26,0.05),(-0.41,-0.16,0.12),(-0.36,-0.17,0.1),(-0.3,-0.18,0.08),
    (0.43,0.03,0.9),(0.47,0.02,0.95),(0.52,0.03,0.85),(0.56,0.02,0.9),(0.6,0.02,0.8),
    (0.44,-0.03,0.85),(0.48,-0.03,0.95),(0.52,-0.04,0.9),(0.56,-0.03,0.85),(0.6,-0.04,0.75),
    (0.43,-0.1,0.3),(0.48,-0.09,0.85),(0.53,-0.1,0.3),(0.57,-0.09,0.9),(0.62,-0.1,0.25),
    (0.44,-0.16,0.2),(0.49,-0.16,0.85),(0.54,-0.16,0.8),(0.59,-0.16,0.3),(0.39,-0.16,0.1),
    (0.34,-0.16,0.1),(0.29,-0.18,0.1),(0.37,-0.24,0.08),(0.33,-0.23,0.06),(0.46,-0.24,0.1),
    (0.54,-0.23,0.3),(0.58,-0.24,0.85),(0.53,-0.3,0.25),(0.58,-0.3,0.3),(0.62,-0.29,0.2),
    (0.66,-0.23,0.1),(0.7,-0.14,0.08),(0.72,-0.2,0.05),(0.75,-0.12,-0.15),(0.8,-0.18,-0.2),
    (0.5,0.18,0.9),(0.55,0.15,0.85),(0.6,0.12,0.4),(0.5,0.1,0.95),(0.54,0.09,0.9),
    (0.44,0.09,0.85),(0.38,0.11,0.7),(0.66,0.14,0.75),(0.72,0.14,0.6),(0.78,0.1,0.85),
    (0.44,0.34,-0.55),(0.42,0.37,-0.45),(0.48,0.31,-0.6),(0.4,0.33,-0.3),(0.45,0.25,-0.35),
]
sim_inner_left_hits = [
    (-0.44,0.02,0.95),(-0.41,0.0,0.9),(-0.38,0.01,0.85),(-0.35,-0.03,0.7),(-0.43,-0.04,0.85),
    (-0.39,-0.06,0.3),(-0.36,-0.09,0.75),(-0.43,-0.09,0.9),(-0.4,-0.11,0.25),(-0.37,-0.14,0.85),
    (-0.44,-0.15,0.3),(-0.42,-0.19,0.85),(-0.38,-0.2,0.3),(-0.44,-0.22,0.8),(-0.39,-0.25,0.25),
    (-0.42,-0.3,0.3),(-0.37,-0.31,0.2),(-0.43,-0.37,0.25),(-0.38,-0.38,0.15),(-0.33,-0.38,0.1),
    (-0.28,-0.36,0.1),(-0.29,-0.43,0.08),(-0.34,-0.44,0.08),(-0.39,-0.45,0.1),(-0.3,-0.5,0.05),
    (-0.35,-0.52,0.05),(-0.39,-0.55,0.05),(-0.33,-0.58,0.05),(-0.38,-0.62,0.04),(-0.32,-0.65,0.05),
    (-0.37,-0.7,0.04),(-0.42,-0.7,0.05),(-0.3,-0.72,0.03),(-0.35,-0.78,0.05),(-0.28,-0.6,0.04),
    (-0.25,-0.52,0.05),(-0.24,-0.42,0.05),(-0.23,-0.32,0.06),(-0.21,-0.27,0.05),(-0.19,-0.14,0.08),
    (-0.24,-0.06,0.1),(-0.29,-0.04,0.15),(-0.31,0.0,0.75),(-0.28,0.04,0.4),(-0.42,0.1,0.85),
    (-0.37,0.09,0.5),(-0.33,0.11,0.75),(-0.47,0.1,0.95),(-0.52,0.09,0.9),(-0.58,0.1,0.85),
]

real_mean = [-0.09, 0.3]
real_cov = [[0.0625, -0.03], [-0.03, 0.36]]
real_radius = [3.63, 2.83, 2.2, 1.63, 0.97]
sim_mean = [0.03, 0.25]
sim_cov = [[0.0625, 0.02], [0.02, 0.36]]
sim_radius = [3.59, 2.82, 2.23, 1.72, 1.13]

y_ticks = [-2, -1, 0, 1, 2, 3, 4, 5]
x_ticks = [-2, -1, 0, 1, 2]
bar_ticks = [-1, -0.8, -0.6, -0.4, -0.2, 0, 0.2, 0.4, 0.6, 0.8, 1]
box_y = [-0.9, -0.9, 0.915, 0.915]
box_x = [0, 4.56, 4.56, 0]
contour_colors = ['#b4ff70', '#c8ff66', '#dcff60', '#f0ff5c', '#ffff55']

plt.rcParams['mathtext.fontset'] = 'cm'
plt.rcParams['axes.unicode_minus'] = False
plt.rcParams['font.family'] = ['Liberation Sans', 'DejaVu Sans']
DARK = '#404040'
NORM = Normalize(-1, 1)


class ContourHandle(HandlerBase):
    """legend key with three nested ellipses like matlab draws for a contour"""
    def create_artists(self, legend, orig_handle, xdescent, ydescent, width, height, fontsize, trans):
        artists = []
        for scale, color in zip([1.0, 0.68, 0.32], ['#5050c0', '#80e080', '#c03030']):
            artists.append(Ellipse((width / 2 - xdescent, height / 2 - ydescent), width * scale,
                                   height * 1.45 * scale, fill=False, edgecolor=color, linewidth=0.7,
                                   transform=trans))
        return artists


class BoxHandle(HandlerBase):
    """legend key for the dashed bounding box"""
    def create_artists(self, legend, orig_handle, xdescent, ydescent, width, height, fontsize, trans):
        return [Rectangle((-xdescent, -ydescent - 1), width, height + 2, fill=False, edgecolor=DARK,
                          linewidth=1.5, linestyle=(0, (4.5, 2.5)), transform=trans)]


def draw_panel(fig, left_px, title, hits, mean, cov, radius, sensor_label, box_label):
    """Draws one scatter panel with its colorbar, left_px is the axes left edge in pixels"""
    ax = fig.add_axes([left_px / 1015, 1 - 536 / 678, 365 / 1015, 489 / 678])
    ax.set_xlim(-2.6, 2.614)
    ax.set_ylim(-2, 5)
    ax.set_xticks(x_ticks)
    ax.set_yticks(y_ticks)
    ax.grid(True, color='#e6e6e6', linewidth=0.8)
    ax.set_axisbelow(True)
    ax.spines['top'].set_color('#eeeeee')
    ax.spines['right'].set_visible(False)
    ax.spines['left'].set_color(DARK)
    ax.spines['bottom'].set_color(DARK)
    ax.tick_params(direction='in', length=3.5, width=0.6, color=DARK, labelcolor='#262626',
                   labelsize=8.2, pad=3)

    # contour lines of the fitted gaussian
    grid_y, grid_x = np.meshgrid(np.linspace(-2.6, 2.6, 500), np.linspace(-2.4, 3, 700))
    inv = np.linalg.inv(np.array(cov))
    dy = grid_y - mean[0]
    dx = grid_x - mean[1]
    dist = inv[0, 0] * dy ** 2 + 2 * inv[0, 1] * dy * dx + inv[1, 1] * dx ** 2
    ax.contour(grid_y, grid_x, np.sqrt(dist), levels=radius[::-1], colors=contour_colors[::-1],
               linewidths=0.8)

    points = np.array(hits)
    ax.scatter(points[:, 0], points[:, 1], c=points[:, 2], cmap='jet', norm=NORM, s=4.2,
               linewidths=0, zorder=3)
    ax.plot(box_y, box_x, color=DARK, linewidth=1.6, linestyle=(0, (4.5, 2.8)), zorder=4)
    ax.plot([box_y[3], box_y[0]], [box_x[3], box_x[0]], color='black', linewidth=1.6,
            linestyle=(0, (4.5, 2.8)), zorder=4)

    handles = [
        Line2D([], [], linestyle='none', marker='o', markersize=2, markeredgewidth=0,
               color='#80ff60', label=sensor_label),
        Rectangle((0, 0), 1, 1, label=box_label),
        Patch(label='Multivariate Distribution'),
    ]
    leg = ax.legend(handles=handles, loc='upper left', bbox_to_anchor=(196 / 365, 1 - 10 / 489),
                    borderaxespad=0, fontsize=7.7, fancybox=False, framealpha=1, edgecolor='#555555',
                    handlelength=3.4, handletextpad=0.3, borderpad=0.4, labelspacing=0.45,
                    handler_map={Rectangle: BoxHandle(), Patch: ContourHandle()})
    leg.get_frame().set_linewidth(0.7)
    for text in leg.get_texts():
        text.set_color('#262626')

    ax.set_title(title, family='cmb10', fontsize=12.3, color='#262626', pad=6, linespacing=1.0)
    ax.set_xlabel('Detection distribution in y-directoin [m]', family='cmr10', fontsize=12.2,
                  color='#404040', labelpad=6)
    ax.set_ylabel('Detection distribution in x-directoin [m]', family='cmr10', fontsize=12.2,
                  color='#404040', labelpad=4)

    cax = fig.add_axes([(left_px + 374) / 1015, 1 - 536 / 678, 20 / 1015, 489 / 678])
    bar = fig.colorbar(ScalarMappable(norm=NORM, cmap='jet'), cax=cax, ticks=bar_ticks)
    bar.ax.set_yticklabels(['-1', '-0.8', '-0.6', '-0.4', '-0.2', '0', '0.2', '0.4', '0.6', '0.8', '1'])
    bar.ax.tick_params(direction='in', length=3, width=0.5, color=DARK, labelcolor='#262626',
                       labelsize=7.6, pad=3)
    bar.outline.set_edgecolor(DARK)
    bar.outline.set_linewidth(0.6)
    bar.set_label('Deviation Relative Velocity [m/s]', family='cmb10', fontsize=13, rotation=270,
                  labelpad=17, color='#262626')
    return ax


def main():
    fig = plt.figure(figsize=(10.15, 6.78), dpi=100)
    draw_panel(fig, 47, 'Hit-Points of Measured Radar Data\n'
               'Near Range Senor, Detection Range 0 $<$ x $<$ 60 [m]',
               real_far_hits + real_upper_hits + real_lower_hits + real_dense_hits,
               real_mean, real_cov, real_radius, 'Real Sensor', 'Vehicle Bounding Box')
    draw_panel(fig, 575, 'Hit-Points of Simulated Radar Data\n'
               'Near Range Senor, Detection Range 0 $<$ x $<$ 60 [m]',
               sim_top_hits + sim_mid_hits + sim_close_hits + sim_stem_hits + sim_right_hits
               + sim_blob_hits + sim_inner_left_hits,
               sim_mean, sim_cov, sim_radius, 'Virtual Sensor', 'Vehicle Boundin Box')
    fig.text(145 / 1015, 1 - 660 / 678, r'($\mathbf{a}$)', fontsize=18, ha='center', va='center',
             family='Liberation Serif')
    fig.text(851 / 1015, 1 - 660 / 678, r'($\mathbf{b}$)', fontsize=18, ha='center', va='center',
             family='Liberation Serif')
    fig.savefig('out.png', dpi=100)


if __name__ == '__main__':
    main()
